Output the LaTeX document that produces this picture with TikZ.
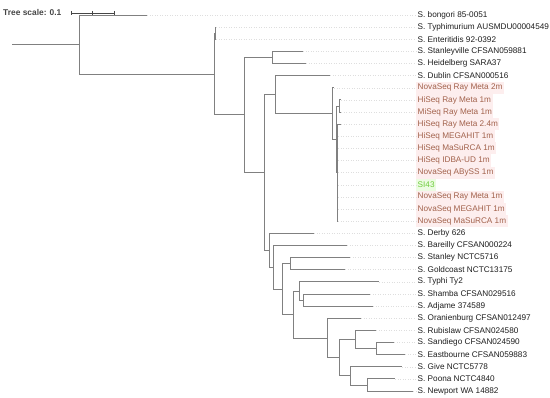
\documentclass[tikz,border=0pt]{standalone}
\usepackage{fontspec}
\setmainfont{Liberation Sans}
\usepackage{tikz}
\definecolor{branchgray}{RGB}{128,128,128}
\definecolor{leaderdot}{RGB}{222,222,222}
\definecolor{labeldark}{RGB}{30,30,30}
\definecolor{scalegray}{RGB}{70,70,70}
\definecolor{asmtext}{RGB}{162,98,76}
\definecolor{asmbg}{RGB}{253,238,238}
\definecolor{refgreen}{RGB}{110,205,60}
\definecolor{refbg}{RGB}{236,252,226}

\begin{document}
\begin{tikzpicture}[x=1pt,y=-12.13pt,
    branch/.style={draw=branchgray,line width=.9pt},
    leader/.style={draw=leaderdot,dotted,line width=.5pt},
    leaf/.style={anchor=west,inner xsep=1.5pt,inner ysep=0pt,minimum height=12.13pt,font=\fontsize{8.2}{9.8}\selectfont,text=labeldark},
    asm/.style={leaf,fill=asmbg,text=asmtext},
    refstrain/.style={leaf,fill=refbg,text=refgreen}]
    \useasboundingbox (0pt,2.87pt) rectangle (550pt,-395.13pt);
    % scale
    \node[anchor=west,inner sep=0pt,font=\fontsize{8.4}{9.8}\selectfont\bfseries,text=scalegray] (scale) at (3,.835) {Tree scale: 0.1};
    \coordinate (sbl) at (71,.835);
    \coordinate (sbr) at (114,.835);
    \draw[scalegray,line width=.7pt] (sbl) -- (sbr);
    \foreach \x in {71,92.5,114} \draw[scalegray,line width=.7pt] (\x,.66) -- (\x,1.01);
    % leaves
    \foreach \i/\tx/\st/\lab in {
      1/147/leaf/{S. bongori 85-0051},
      2/216/leaf/{S. Typhimurium AUSMDU00004549},
      3/216/leaf/{S. Enteritidis 92-0392},
      4/303/leaf/{S. Stanleyville CFSAN059881},
      5/306/leaf/{S. Heidelberg SARA37},
      6/330/leaf/{S. Dublin CFSAN000516},
      7/334/asm/{NovaSeq Ray Meta 2m},
      8/341/asm/{HiSeq Ray Meta 1m},
      9/341/asm/{MiSeq Ray Meta 1m},
      10/341/asm/{HiSeq Ray Meta 2.4m},
      11/338/asm/{HiSeq MEGAHIT 1m},
      12/338/asm/{HiSeq MaSuRCA 1m},
      13/338/asm/{HiSeq IDBA-UD 1m},
      14/338/asm/{NovaSeq ABySS 1m},
      15/338/refstrain/{SI43},
      16/338/asm/{NovaSeq Ray Meta 1m},
      17/338/asm/{NovaSeq MEGAHIT 1m},
      18/338/asm/{NovaSeq MaSuRCA 1m},
      19/314/leaf/{S. Derby 626},
      20/347/leaf/{S. Bareilly CFSAN000224},
      21/350/leaf/{S. Stanley NCTC5716},
      22/345/leaf/{S. Goldcoast NCTC13175},
      23/379/leaf/{S. Typhi Ty2},
      24/370/leaf/{S. Shamba CFSAN029516},
      25/373/leaf/{S. Adjame 374589},
      26/361/leaf/{S. Oranienburg CFSAN012497},
      27/376/leaf/{S. Rubislaw CFSAN024580},
      28/394/leaf/{S. Sandiego CFSAN024590},
      29/405/leaf/{S. Eastbourne CFSAN059883},
      30/402/leaf/{S. Give NCTC5778},
      31/395/leaf/{S. Poona NCTC4840},
      32/413/leaf/{S. Newport WA 14882}}{
      \coordinate (t\i) at (\tx,\i);
      \node[\st] (l\i) at (416,\i) {\lab};
      \draw[leader] (t\i) -- (l\i.west);
    }
    % inner nodes
    \coordinate (base) at (12,3.435);
    \coordinate (root) at (79,3.435);
    \coordinate (nA) at (214,5.87);
    \coordinate (nT) at (215,2.5);
    \coordinate (nB) at (244,9.24);
    \coordinate (nC) at (272,4.5);
    \coordinate (nD) at (264,13.98);
    \coordinate (nE) at (275,7.5625);
    \coordinate (nG) at (332,9.125);
    \coordinate (nH) at (336,11.25);
    \coordinate (nP) at (339,8.5);
    \coordinate (nI) at (337,14);
    \coordinate (nF) at (269,20.4);
    \coordinate (nF2) at (273,21.8);
    \coordinate (nF3) at (282,23.59);
    \coordinate (nF4) at (290,21.5);
    \coordinate (nF5) at (293,25.6875);
    \coordinate (nF6) at (299,23.75);
    \coordinate (nF8) at (303,24.5);
    \coordinate (nF7) at (327,27.625);
    \coordinate (nF9) at (339,29.25);
    \coordinate (nF10) at (355,27.75);
    \coordinate (nF12) at (376,28.5);
    \coordinate (nF11) at (350,30.75);
    \coordinate (nF13) at (367,31.5);
    % branches
    \draw[branch] (base) -- (root);
    \foreach \p/\c in {root/t1,root/nA,nA/nT,nA/nB,nT/t2,nT/t3,nB/nC,nB/nD,nC/t4,nC/t5,
      nD/nE,nD/nF,nE/t6,nE/nG,nG/t7,nG/nH,nH/nP,nH/nI,nP/t8,nP/t9,
      nI/t10,nI/t11,nI/t12,nI/t13,nI/t14,nI/t15,nI/t16,nI/t17,nI/t18,
      nF/t19,nF/nF2,nF2/t20,nF2/nF3,nF3/nF4,nF3/nF5,nF4/t21,nF4/t22,
      nF5/nF6,nF5/nF7,nF6/t23,nF6/nF8,nF8/t24,nF8/t25,nF7/t26,nF7/nF9,
      nF9/nF10,nF9/nF11,nF10/t27,nF10/nF12,nF12/t28,nF12/t29,
      nF11/t30,nF11/nF13,nF13/t31,nF13/t32}
      \draw[branch] (\p) |- (\c);
  \end{tikzpicture}
\end{document}
